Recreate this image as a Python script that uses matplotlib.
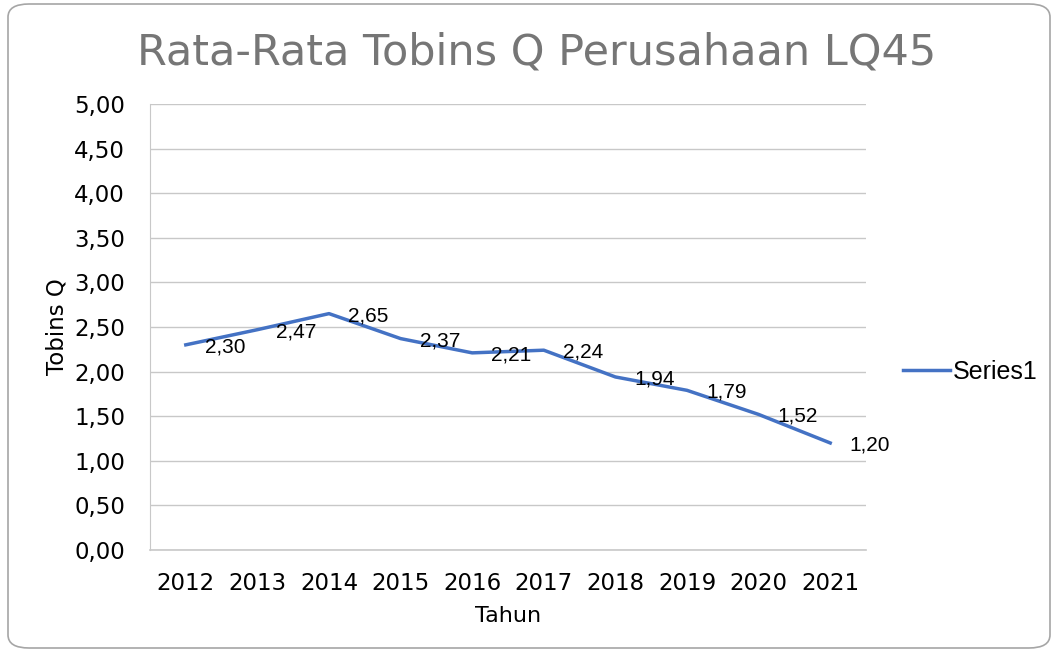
import matplotlib
matplotlib.use("Agg")
import matplotlib.pyplot as plt
from matplotlib.patches import FancyBboxPatch
from matplotlib.ticker import FuncFormatter

years = ["2012", "2013", "2014", "2015", "2016", "2017", "2018", "2019", "2020", "2021"]
tobins_q = [2.30, 2.47, 2.65, 2.37, 2.21, 2.24, 1.94, 1.79, 1.52, 1.20]
yticks = [0.0, 0.5, 1.0, 1.5, 2.0, 2.5, 3.0, 3.5, 4.0, 4.5, 5.0]

def comma(v, pos=None):
    return f"{v:.2f}".replace(".", ",")

fig = plt.figure(figsize=(10.57, 6.54), dpi=100)
fig.patches.append(FancyBboxPatch((8 / 1057, 6 / 654), 1042 / 1057, 644 / 654,
                                  boxstyle="round,pad=0,rounding_size=0.02",
                                  transform=fig.transFigure, fill=False,
                                  edgecolor="#a6a6a6", linewidth=1.2))

ax = fig.add_axes([150 / 1057, 104 / 654, 716 / 1057, 446 / 654])
x = list(range(len(years)))
ax.plot(x, tobins_q, color="#4472c4", linewidth=2.5, label="Series1")

for xi, v in zip(x, tobins_q):
    ax.annotate(comma(v), (xi, v), xytext=(19, -2), textcoords="offset pixels",
                ha="left", va="center", fontsize=15, family="Liberation Sans")

ax.set_xlim(-0.5, len(years) - 0.5)
ax.set_ylim(0, 5)
ax.set_yticks(yticks)
ax.yaxis.set_major_formatter(FuncFormatter(comma))
ax.set_xticks(x)
ax.set_xticklabels(years)
ax.grid(axis="y", color="#c8c8c8", linewidth=1)
ax.axhline(0, color="#c8c8c8", linewidth=1.2, clip_on=False, zorder=0.5)
ax.set_axisbelow(True)
for s in ["top", "right", "bottom"]:
    ax.spines[s].set_visible(False)
ax.spines["left"].set_color("#c8c8c8")
ax.tick_params(length=0, labelsize=16.5, colors="#000000")
ax.tick_params(axis="x", pad=16)
ax.tick_params(axis="y", pad=18)

ax.set_xlabel("Tahun", fontsize=16, labelpad=8)
ax.set_ylabel("Tobins Q", fontsize=16.5, labelpad=4)

fig.text(537 / 1057, 1 - 52 / 654, "Rata-Rata Tobins Q Perusahaan LQ45",
         ha="center", va="center", fontsize=31, color="#767676")

ax.legend(loc="center left", bbox_to_anchor=(1.02, 0.40), frameon=False,
          prop={"family": "Liberation Sans", "size": 18}, handlelength=1.9,
          handletextpad=0.1)

fig.savefig("out.png", dpi=100)
